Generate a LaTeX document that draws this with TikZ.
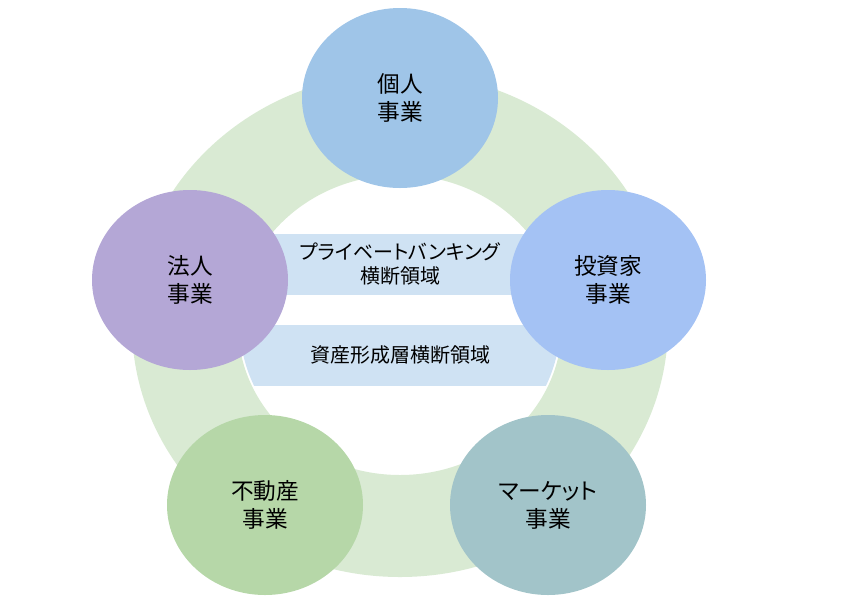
\documentclass[tikz,border=0pt]{standalone}
\usepackage{fontspec}
\setmainfont{Noto Sans CJK JP}[RawFeature=+palt]
\usetikzlibrary{shapes.geometric}
\definecolor{ringgreen}{HTML}{D9EAD3}
\definecolor{bandblue}{HTML}{CFE2F3}
\definecolor{kojinblue}{HTML}{9FC5E8}
\definecolor{toushiblue}{HTML}{A4C2F4}
\definecolor{houjinpurple}{HTML}{B4A7D6}
\definecolor{fudousangreen}{HTML}{B6D7A8}
\definecolor{marketteal}{HTML}{A2C4C9}
\tikzset{
  biz/.style={ellipse, minimum width=147pt, minimum height=135pt, inner sep=0pt,
    align=center, font=\fontsize{17}{21}\selectfont},
  bandtext/.style={align=center, font=\fontsize{15}{17.3}\selectfont}
}
\begin{document}
\begin{tikzpicture}[x=0.75pt,y=-0.75pt]
    \useasboundingbox (0,0) rectangle (842,615);
    % ring behind the business circles
    \fill[ringgreen, even odd rule] (400,325) ellipse [x radius=268, y radius=252]
        (400,325) ellipse [x radius=162, y radius=150];

    % cross-business bands
    \begin{scope}
        \clip (400,325) ellipse [x radius=160, y radius=148];
        \fill[bandblue] (230,234) rectangle (570,295);
        \fill[bandblue] (230,325) rectangle (570,386);
    \end{scope}
    \node[bandtext] (pb) at (400,264) {プライベートバンキング\\横断領域};
    \node[bandtext] (am) at (400,355) {資産形成層横断領域};

    % business units
    \node[biz, fill=kojinblue] (kojin) at (400,98) {個人\\事業};
    \node[biz, fill=toushiblue] (toushi) at (608,280) {投資家\\事業};
    \node[biz, fill=houjinpurple] (houjin) at (190,280) {法人\\事業};
    \node[biz, fill=fudousangreen] (fudousan) at (265,505) {不動産\\事業};
    \node[biz, fill=marketteal] (market) at (548,505) {マーケット\\事業};
\end{tikzpicture}
\end{document}
